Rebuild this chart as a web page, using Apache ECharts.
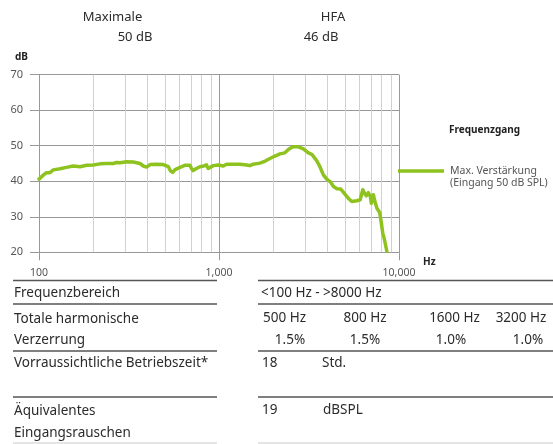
<!DOCTYPE html>
<html>
<head>
<meta charset="utf-8">
<script src="https://cdn.jsdelivr.net/npm/echarts@6/dist/echarts.min.js"></script>
<style>
html,body{margin:0;padding:0;background:#fff;}
#c{width:553px;height:444px;}
</style>
</head>
<body>
<div id="c"></div>
<script>
// ---- data ----
var freqHz = [100,106,110,115,120,131,142,155,169,184,200,218,237,259,270,282,307,334,364,380,396,414,450,490,523,538,553,570,607,646,689,703,718,750,783,824,852,871,890,929,990,1057,1103,1200,1308,1424,1485,1550,1687,1806,1919,2047,2180,2323,2438,2575,2763,2942,3138,3277,3487,3635,3800,3967,4140,4327,4519,4750,5007,5277,5467,5825,6086,6292,6434,6580,6750,6930,7020,7200,7380,7540,7810,7953,8124,8300,8560];
var gainDb = [40.6,41.8,42.4,42.4,43.2,43.5,43.9,44.3,44.1,44.5,44.6,44.9,45.0,45.0,45.3,45.2,45.5,45.4,45.0,44.3,44.0,44.7,44.8,44.7,44.1,42.9,42.5,43.3,43.9,44.5,44.5,43.6,43.0,43.6,44.1,44.3,44.6,43.6,43.9,44.4,44.6,44.3,44.8,44.8,44.8,44.6,44.4,44.8,45.1,45.7,46.4,47.1,47.7,48.0,49.0,49.7,49.7,49.1,48.0,47.6,45.8,44.1,41.8,40.6,39.9,38.5,37.9,37.8,36.4,35.0,34.3,34.5,34.8,37.6,36.6,35.9,36.8,35.7,33.8,36.2,34.0,32.4,31.2,28.7,25.4,23.6,20.3];
var minorFreqs = [200,300,400,500,600,700,800,900,2000,3000,4000,5000,6000,7000,8000,9000];
var yTicks = [20,30,40,50,60,70];
var seriesName = 'Max. Verstärkung';
var legendLines = ['Max. Verstärkung', '(Eingang 50 dB SPL)'];
var headerLabels = ['Maximale', 'HFA'];
var headerValues = ['50 dB', '46 dB'];
var rowLabels = [['Frequenzbereich'], ['Totale harmonische', 'Verzerrung'], ['Vorraussichtliche Betriebszeit*'], ['Äquivalentes', 'Eingangsrauschen']];
var freqRange = '<100 Hz - >8000 Hz';
var thdFreqs = ['500 Hz', '800 Hz', '1600 Hz', '3200 Hz'];
var thdValues = ['1.5%', '1.5%', '1.0%', '1.0%'];
var runtime = ['18', 'Std.'];
var noise = ['19', 'dBSPL'];

var FONT = '"Noto Sans", sans-serif';
var TXT = '#2b2b2b';
var GREEN = '#8dc21f';

var chart = echarts.init(document.getElementById('c'), null, {renderer: 'canvas'});

function txt(x, y, s, opt) {
  opt = opt || {};
  return {
    type: 'text', x: x, y: y, silent: true,
    style: {
      text: s, fill: opt.color || TXT,
      font: (opt.weight || 'normal') + ' ' + (opt.size || 13.5) + 'px ' + FONT,
      textAlign: opt.align || 'left', textVerticalAlign: 'middle'
    }
  };
}
function hline(x1, x2, y, color, w) {
  return {type: 'line', silent: true, shape: {x1: x1, y1: y, x2: x2, y2: y}, style: {stroke: color || '#555', lineWidth: w || 1.5}};
}

var g = [];
// header
g.push(txt(112.5, 17, headerLabels[0], {align: 'center', size: 13}));
g.push(txt(333, 17, headerLabels[1], {align: 'center', size: 13}));
g.push(txt(135, 37, headerValues[0], {align: 'center', size: 13}));
g.push(txt(321, 37, headerValues[1], {align: 'center', size: 13}));
// axis names
g.push(txt(15, 57, 'dB', {weight: 'bold', size: 10, color: '#222'}));
g.push(txt(423, 262, 'Hz', {weight: 'bold', size: 10, color: '#222'}));
g.push(txt(449, 130, 'Frequenzgang', {weight: 'bold', size: 10, color: '#222'}));
// legend
g.push({type: 'line', silent: true, shape: {x1: 398, y1: 171, x2: 444, y2: 171}, style: {stroke: GREEN, lineWidth: 3.5}});
g.push(txt(450, 171, legendLines[0], {size: 10.5, color: '#555'}));
g.push(txt(450, 183, legendLines[1], {size: 10.5, color: '#555'}));

// table lines
var L1 = 13, L2 = 217, R1 = 258, R2 = 553;
[280.5, 304, 351, 397].forEach(function (y) {
  g.push(hline(L1, L2, y));
  g.push(hline(R1, R2, y));
});
g.push(hline(L1, L2, 443, '#ddd'));
g.push(hline(R1, R2, 443, '#ddd'));

// table left labels
g.push(txt(14, 293, rowLabels[0][0]));
g.push(txt(14, 319, rowLabels[1][0]));
g.push(txt(14, 340, rowLabels[1][1]));
g.push(txt(14, 363, rowLabels[2][0]));
g.push(txt(14, 411, rowLabels[3][0]));
g.push(txt(14, 433, rowLabels[3][1]));
// table right values
g.push(txt(261, 293, freqRange));
var hzCenters = [284.5, 365, 454.5, 521];
var pctCenters = [290, 365, 451, 528];
thdFreqs.forEach(function (s, i) { g.push(txt(hzCenters[i], 318, s, {align: 'center'})); });
thdValues.forEach(function (s, i) { g.push(txt(pctCenters[i], 340, s, {align: 'center'})); });
g.push(txt(262, 363, runtime[0]));
g.push(txt(322, 363, runtime[1]));
g.push(txt(262, 410, noise[0]));
g.push(txt(323, 410, noise[1]));

var option = {
  backgroundColor: '#fff',
  animation: false,
  grid: {left: 39, right: 154, top: 74.7, bottom: 191.7, containLabel: false},
  xAxis: {
    type: 'log', logBase: 10, min: 100, max: 10000,
    axisLine: {show: true, lineStyle: {color: '#999', width: 1}},
    axisTick: {show: true, length: 8, lineStyle: {color: '#999', width: 1}},
    splitLine: {show: true, lineStyle: {color: '#999', width: 1}},
    axisLabel: {
      margin: 15, color: '#555', fontSize: 10.5, fontFamily: FONT,
      formatter: function (v) { return Math.round(v).toLocaleString('en-US'); }
    }
  },
  yAxis: {
    type: 'value', min: yTicks[0], max: yTicks[yTicks.length - 1], interval: 10,
    axisLine: {show: false},
    axisTick: {show: true, length: 9, lineStyle: {color: '#999', width: 1}},
    splitLine: {show: true, lineStyle: {color: '#999', width: 1}},
    axisLabel: {margin: 16, color: '#555', fontSize: 11, fontFamily: FONT}
  },
  series: [
    {
      type: 'line', name: 'grid', data: [], z: 1, silent: true,
      markLine: {
        silent: true, symbol: ['none', 'none'], label: {show: false},
        lineStyle: {color: '#d0d0d0', type: 'solid', width: 1},
        data: minorFreqs.map(function (f) { return {xAxis: f}; })
      }
    },
    {
      type: 'line', name: seriesName, z: 5,
      data: freqHz.map(function (f, i) { return [f, gainDb[i]]; }),
      showSymbol: false, smooth: false,
      lineStyle: {color: GREEN, width: 3.5, cap: 'round', join: 'round'},
      itemStyle: {color: GREEN}
    }
  ],
  graphic: g
};
chart.setOption(option);
</script>
</body>
</html>
